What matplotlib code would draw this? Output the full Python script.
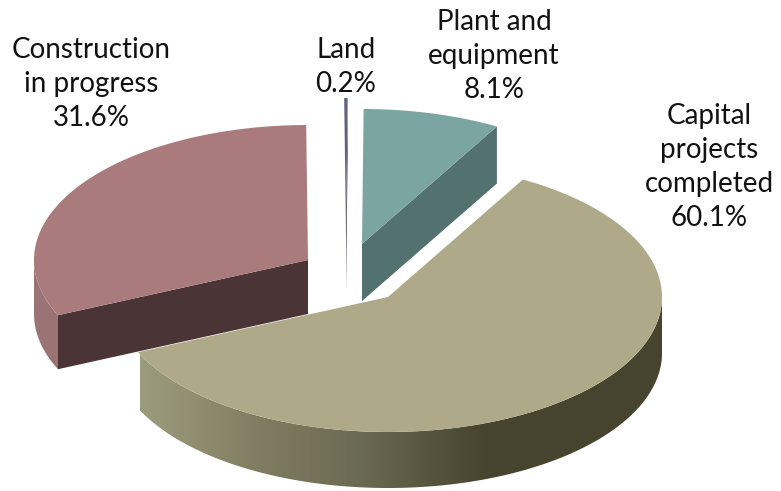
import numpy as np
import matplotlib
matplotlib.use("Agg")
import matplotlib.pyplot as plt
from matplotlib.colors import LinearSegmentedColormap
from matplotlib.patches import Polygon

# data (clockwise from the start angle)
categories = ["Capital\nprojects\ncompleted", "Construction\nin progress", "Land", "Plant and\nequipment"]
shares = [60.1, 31.6, 0.2, 8.1]

# styles
top_colors = ["#aeaa89", "#a97b7c", "#62627e", "#7aa5a1"]
cut_colors = ["#46432f", "#4a3436", "#33334a", "#52716f"]
wall_color_construction = "#9a7375"
centers = [(388, 297), (308, 260), (346, 233), (362, 244)]
depths = [56, 54, 57, 57]
z_orders = [5, 4, 2, 3]
label_pos = [(709, 167), (91, 84), (346, 67), (494, 56)]
start_angle = 60.5
A, B = 274, 135

plt.rcParams["font.family"] = ["Lato", "DejaVu Sans"]
fig = plt.figure(figsize=(7.81, 4.91), dpi=100)
ax = fig.add_axes([0, 0, 1, 1])
ax.set_xlim(0, 781)
ax.set_ylim(491, 0)
ax.axis("off")

sweeps = np.array(shares) / sum(shares) * 360
starts = start_angle - np.concatenate([[0], np.cumsum(sweeps)[:-1]])
ends = starts - sweeps


def rim(c, t0, t1, n=200):
    t = np.radians(np.linspace(t0, t1, n))
    return np.column_stack([c[0] + A * np.cos(t), c[1] - B * np.sin(t)])


def wall_polygon(c, d, t0, t1):
    edge = rim(c, t0, t1)
    return np.vstack([edge, (edge + [0, d])[::-1]])


def cut_face(c, p, d):
    return [c, p, (p[0], p[1] + d), (c[0], c[1] + d)]


wall_cmap = LinearSegmentedColormap.from_list(
    "wall",
    [(0.0, "#9d9b7e"), (0.24, "#7f7b60"), (0.42, "#6b6a52"),
     (0.66, "#47442f"), (1.0, "#46432f")],
)

for i in [2, 3, 1, 0]:
    c, d, z = centers[i], depths[i], z_orders[i]
    t0, t1 = starts[i], ends[i]
    edge = rim(c, t0, t1)

    if i == 0:
        # outer wall with a horizontal shading gradient (front half only)
        poly = Polygon(wall_polygon(c, d, 0, t1), closed=True, fc="none", ec="none", zorder=z)
        ax.add_patch(poly)
        grad = np.linspace(0, 1, 256).reshape(1, -1)
        im = ax.imshow(grad, cmap=wall_cmap, extent=(140, 662, 491, 290),
                       aspect="auto", zorder=z, interpolation="bilinear")
        im.set_clip_path(poly)
        ax.set_xlim(0, 781)
        ax.set_ylim(491, 0)
    elif i == 1:
        # visible outer wall on the left and the cut face toward the viewer
        ax.add_patch(Polygon(wall_polygon(c, d, t0, -180), closed=True,
                             fc=wall_color_construction, ec="none", zorder=z))
        ax.add_patch(Polygon(cut_face(c, edge[0], d), closed=True, fc=cut_colors[i], ec="none", zorder=z))
    else:
        # cut face running from the tip to the right-hand rim corner
        ax.add_patch(Polygon(cut_face(c, edge[-1], d), closed=True, fc=cut_colors[i], ec="none", zorder=z))

    ax.add_patch(Polygon(np.vstack([[c], edge]), closed=True, fc=top_colors[i], ec="none", zorder=z + 0.1))

for name, val, (x, y) in zip(categories, shares, label_pos):
    ax.text(x, y, f"{name}\n{val:.1f}%", ha="center", va="center", fontsize=20,
            color="#111111", linespacing=1.38, zorder=10)

fig.savefig("out.png", dpi=100)
